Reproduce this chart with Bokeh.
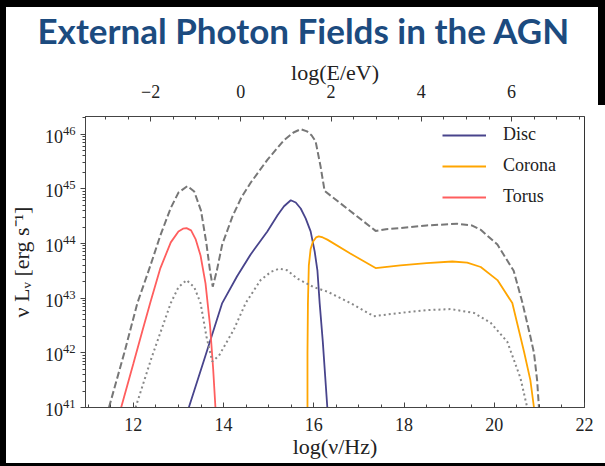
import numpy as np
from bokeh.plotting import figure
from bokeh.models import Range1d, LinearAxis, FixedTicker, Legend, LegendItem
from bokeh.embed import file_html
from bokeh.resources import INLINE

# ---- data: log10(nu/Hz) and log10(nu L_nu / erg s^-1) ----
disc_nu = [13.23, 13.6, 13.97, 14.3, 14.6, 14.97, 15.2, 15.34, 15.49, 15.6, 15.71, 15.82, 15.93, 16.02, 16.08, 16.13, 16.2, 16.3]
disc_L = [41.0, 41.95, 42.91, 43.4, 43.8, 44.22, 44.52, 44.68, 44.79, 44.75, 44.64, 44.46, 44.22, 43.85, 43.51, 42.91, 42.2, 41.0]

corona_nu = [15.86, 15.86, 15.87, 15.89, 15.93, 15.98, 16.05, 16.11, 16.2, 16.3, 16.8, 17.37, 17.92, 18.5, 19.07, 19.4, 19.7, 20.07, 20.4, 20.66, 20.8, 20.88]
corona_L = [41.0, 42.0, 42.91, 43.6, 43.9, 44.03, 44.11, 44.13, 44.11, 44.07, 43.82, 43.55, 43.6, 43.64, 43.67, 43.65, 43.57, 43.33, 42.91, 42.02, 41.5, 41.0]

torus_nu = [11.73, 12.0, 12.2, 12.38, 12.6, 12.83, 13.0, 13.1, 13.18, 13.28, 13.38, 13.49, 13.6, 13.7, 13.77, 13.82]
torus_L = [41.0, 41.8, 42.4, 42.93, 43.55, 44.02, 44.22, 44.27, 44.28, 44.24, 44.08, 43.78, 43.27, 42.5, 41.7, 41.0]

total_nu = [11.46, 11.8, 12.09, 12.38, 12.6, 12.83, 13.0, 13.2, 13.35, 13.5, 13.62, 13.7, 13.76, 13.85, 13.97, 14.2, 14.4, 14.6, 14.97, 15.34, 15.55, 15.71, 15.85, 15.95, 16.04, 16.15, 16.24, 16.8, 17.37, 17.6, 17.92, 18.5, 19.18, 19.5, 19.7, 20.07, 20.43, 20.62, 20.8, 20.88, 20.95, 20.99]
total_L = [41.0, 42.0, 42.91, 43.6, 44.15, 44.65, 44.93, 45.05, 44.95, 44.6, 44.0, 43.5, 43.21, 43.5, 43.98, 44.5, 44.85, 45.11, 45.53, 45.89, 46.03, 46.09, 46.05, 45.98, 45.87, 45.41, 44.96, 44.6, 44.23, 44.26, 44.28, 44.33, 44.36, 44.33, 44.25, 43.98, 43.5, 42.93, 42.3, 42.0, 41.5, 41.0]

dotted_nu = [12.05, 12.4, 12.83, 13.0, 13.18, 13.35, 13.49, 13.62, 13.75, 13.9, 14.23, 14.49, 14.82, 15.05, 15.23, 15.41, 15.63, 16.0, 16.3, 16.81, 17.33, 17.92, 18.5, 19.03, 19.55, 19.92, 20.29, 20.58, 20.73]
dotted_L = [41.0, 41.9, 42.91, 43.2, 43.33, 43.2, 42.91, 42.3, 41.84, 41.95, 42.43, 42.91, 43.33, 43.48, 43.54, 43.51, 43.36, 43.2, 43.12, 42.91, 42.67, 42.73, 42.78, 42.80, 42.73, 42.55, 42.20, 41.54, 41.0]

x_ticks = [12, 14, 16, 18, 20, 22]
e_ticks = [-2, 0, 2, 4, 6]
LOG_H_EV = -14.3835  # log10(h / (eV s)): log(E/eV) = log(nu/Hz) + LOG_H_EV

SERIF = "Liberation Serif"
X0, X1 = 10.94, 22.0

p = figure(width=605, height=466, y_axis_type="log",
           x_range=Range1d(X0, X1), y_range=Range1d(1e41, 2.1e46),
           output_backend="svg", toolbar_location=None,
           min_border_left=85, min_border_right=21, min_border_top=109, min_border_bottom=59,
           title="External Photon Fields in the AGN")
p.background_fill_color = "white"
p.border_fill_alpha = 0
# white slide with the dark edges of the screen capture, shown through the transparent border
p.styles = {"background": "linear-gradient(#000,#000) 0 0 / 100% 7px no-repeat, "
                          "linear-gradient(#000,#000) 0 0 / 6px 100% no-repeat, "
                          "linear-gradient(#000,#000) 0 100% / 100% 3px no-repeat, "
                          "linear-gradient(#000,#000) 100% 0 / 7px 105px no-repeat, #ffffff"}
p.outline_line_color = "#333333"
p.outline_line_width = 1
p.xgrid.visible = False
p.ygrid.visible = False

p.title.text_font = "Lato"
p.title.text_font_style = "bold"
p.title.text_font_size = "35px"
p.title.text_color = "#1c4b7f"
p.title.align = "left"
p.title.offset = -48
p.title.standoff = 12

def f(a):
    return 10 ** np.array(a)

r_disc = p.line(disc_nu, f(disc_L), line_color="#48448c", line_width=1.8)
r_cor = p.line(corona_nu, f(corona_L), line_color="#ffa500", line_width=1.8)
r_tor = p.line(torus_nu, f(torus_L), line_color="#ff5e5e", line_width=1.8)
p.line(total_nu, f(total_L), line_color="#777777", line_width=2, line_dash="7 3")
p.line(dotted_nu, f(dotted_L), line_color="#888888", line_width=2, line_dash="2 3")

# bottom axis
xa = p.xaxis[0]
xa.ticker = FixedTicker(ticks=x_ticks, minor_ticks=list(np.arange(11, 22.01, 0.5)))
xa.axis_label = "log(ν/Hz)"
xa.major_tick_in = 5
xa.major_tick_out = 0
xa.minor_tick_in = 3
xa.minor_tick_out = 0
xa.major_label_standoff = 10
xa.axis_label_standoff = 0

# top axis in energy
p.extra_x_ranges = {"E": Range1d(X0 + LOG_H_EV, X1 + LOG_H_EV)}
ta = LinearAxis(x_range_name="E", axis_label="log(E/eV)",
                ticker=FixedTicker(ticks=e_ticks, minor_ticks=list(np.arange(-3.5, 7.6, 0.5))))
ta.major_label_overrides = {-2: "−2"}
ta.major_tick_in = 5
ta.major_tick_out = 0
ta.minor_tick_in = 3
ta.minor_tick_out = 0
ta.major_label_standoff = 19
ta.axis_label_standoff = -3
p.add_layout(ta, "above")

ya = p.yaxis[0]
ya.axis_label = "ν Lᵥ [erg s⁻¹]"
ya.major_tick_in = 0
ya.major_tick_out = 5
ya.minor_tick_in = 0
ya.minor_tick_out = 3
ya.axis_label_standoff = 8

for ax in [xa, ta, ya]:
    ax.major_label_text_font = SERIF
    ax.major_label_text_font_size = "18px"
    ax.major_label_text_color = "#222222"
    ax.axis_label_text_font = SERIF
    ax.axis_label_text_font_size = "22px"
    ax.axis_label_text_font_style = "normal"
    ax.axis_label_text_color = "#222222"
    ax.axis_line_color = "#444444"
    ax.major_tick_line_color = "#444444"
    ax.minor_tick_line_color = "#444444"

legend = Legend(items=[LegendItem(label="Disc", renderers=[r_disc]),
                       LegendItem(label="Corona", renderers=[r_cor]),
                       LegendItem(label="Torus", renderers=[r_tor])],
                location=(352, 195))
legend.border_line_alpha = 0
legend.background_fill_alpha = 0
legend.label_text_font = SERIF
legend.label_text_font_size = "18px"
legend.label_text_color = "#222222"
legend.glyph_width = 44
legend.glyph_height = 20
legend.label_height = 20
legend.label_standoff = 17
legend.spacing = 10
legend.padding = 5
p.add_layout(legend)

open("out.html", "w").write(file_html(p, INLINE))
